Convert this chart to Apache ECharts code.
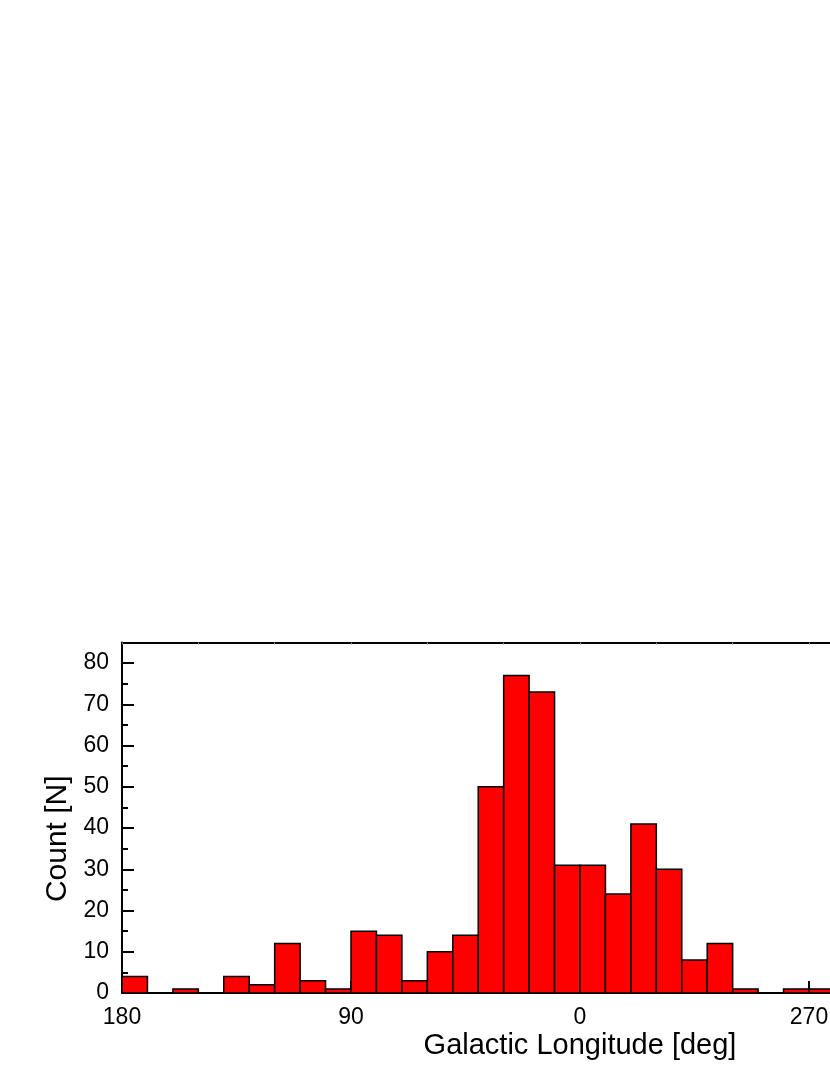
<!DOCTYPE html>
<html>
<head>
<meta charset="utf-8">
<script src="https://cdn.jsdelivr.net/npm/echarts@6/dist/echarts.min.js"></script>
<style>
  html, body { margin: 0; padding: 0; background: #fff; }
  #chart { width: 830px; height: 1075px; }
</style>
</head>
<body>
<div id="chart"></div>
<script>
// left edge of each 10 deg bin (longitude runs 180 -> 0 -> 270)
const binStart = [180, 170, 160, 150, 140, 130, 120, 110, 100, 90, 80, 70, 60, 50,
                  40, 30, 20, 10, 0, -10, -20, -30, -40, -50, -60, -70, -80, -90];
const counts = [4, 0, 1, 0, 4, 2, 12, 3, 1, 15, 14, 3, 10, 14,
                50, 77, 73, 31, 31, 24, 41, 30, 8, 12, 1, 0, 1, 1];
const binWidth = 10;
const yTicks = [0, 10, 20, 30, 40, 50, 60, 70, 80];

const font = "'Liberation Sans', Arial, sans-serif";
const chart = echarts.init(document.getElementById('chart'));

const data = binStart.map((s, i) => [s, s - binWidth, counts[i]]);

const option = {
  animation: false,
  grid: { left: 122, top: 642.5, width: 916, bottom: 82, outerBoundsMode: 'none', containLabel: false },
  xAxis: [
    {
      type: 'value', min: -180, max: 180, interval: 90, inverse: true,
      position: 'bottom',
      name: 'Galactic Longitude [deg]', nameLocation: 'middle', nameGap: 38,
      nameTextStyle: { fontFamily: font, fontSize: 29, color: '#000' },
      axisLine: { onZero: false, lineStyle: { color: '#000', width: 2 } },
      axisTick: { inside: true, length: 12, lineStyle: { color: '#000', width: 2 } },
      axisLabel: {
        margin: 13, fontFamily: font, fontSize: 23, color: '#000',
        formatter: v => (v < 0 ? v + 360 : v)
      },
      splitLine: { show: false }
    },
    {
      type: 'value', min: -180, max: 180, interval: 30, inverse: true,
      position: 'bottom',
      axisLine: { show: false, onZero: false },
      axisTick: { inside: true, length: 3, lineStyle: { color: '#000', width: 1 } },
      axisLabel: { show: false },
      splitLine: { show: false }
    },
    {
      type: 'value', min: -180, max: 180, interval: 30, inverse: true,
      position: 'top',
      axisLine: { onZero: false, lineStyle: { color: '#000', width: 2 } },
      axisTick: { inside: true, length: 2, lineStyle: { color: '#888', width: 1 } },
      axisLabel: { show: false },
      splitLine: { show: false }
    }
  ],
  yAxis: [
    {
      type: 'value', min: 0, max: 85, interval: 10, position: 'left',
      name: 'Count [N]', nameLocation: 'middle', nameGap: 42,
      nameTextStyle: { fontFamily: font, fontSize: 30, color: '#000', padding: [0, 42, 0, 0] },
      axisLine: { onZero: false, lineStyle: { color: '#000', width: 2 } },
      axisTick: { inside: true, length: 12, lineStyle: { color: '#000', width: 2 } },
      axisLabel: {
        margin: 13, fontFamily: font, fontSize: 23, color: '#000', showMaxLabel: false,
        formatter: v => (yTicks.indexOf(v) >= 0 ? v : '')
      },
      splitLine: { show: false }
    },
    {
      type: 'value', min: 0, max: 85, interval: 5, position: 'left',
      axisLine: { show: false, onZero: false },
      axisTick: { inside: true, length: 6, lineStyle: { color: '#000', width: 2 } },
      axisLabel: { show: false },
      splitLine: { show: false }
    }
  ],
  series: [
    {
      type: 'custom',
      xAxisIndex: 0,
      yAxisIndex: 0,
      data: data,
      renderItem: function (params, api) {
        const a = api.coord([api.value(0), 0]);
        const b = api.coord([api.value(1), api.value(2)]);
        return {
          type: 'rect',
          shape: { x: a[0], y: b[1], width: b[0] - a[0], height: a[1] - b[1] },
          style: { fill: '#ff0000', stroke: '#000', lineWidth: 1.5 }
        };
      }
    }
  ]
};

chart.setOption(option);
</script>
</body>
</html>
